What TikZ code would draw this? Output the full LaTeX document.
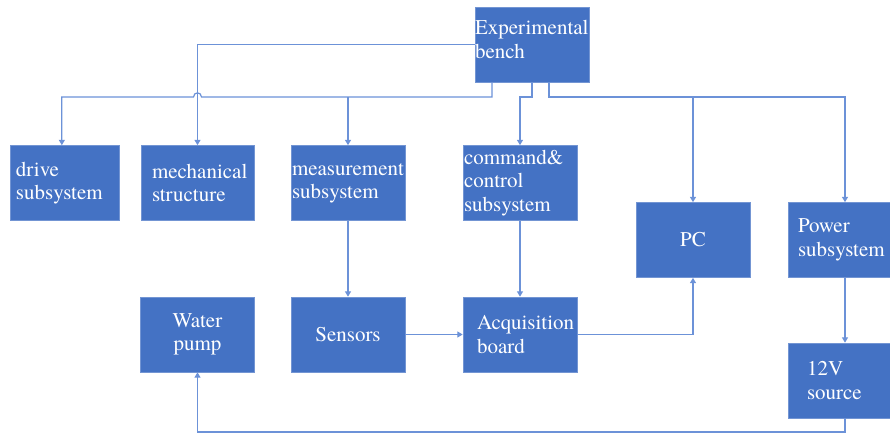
\documentclass[tikz,border=0pt]{standalone}
\usepackage{fontspec}
\setmainfont{texgyretermes-regular.otf}
\newfontfamily\boxfont{texgyretermes-regular.otf}
\usetikzlibrary{arrows.meta}
\definecolor{boxblue}{RGB}{68,114,196}
\definecolor{linkblue}{RGB}{108,146,216}

\tikzset{
  blk/.style={fill=boxblue, draw=boxblue!75!white, line width=0.5pt, text=white,
    font=\boxfont\fontsize{15.75}{17.6}\selectfont, minimum height=56.25pt, inner ysep=0pt, align=left},
  conn/.style={draw=linkblue, line width=0.9pt, -{Triangle[length=4pt,width=4.5pt]}},
}

\begin{document}
\begin{tikzpicture}[x=0.75pt,y=0.75pt,yscale=-1,xscale=1]
\useasboundingbox (0,0) rectangle (890,433);
%Shape: Rectangle [bench]
\node[blk, text width=85.5pt, inner xsep=0pt] (bench) at (532,44.5) {Experimental\\bench\\[-10pt]\rule{0pt}{0pt}};
%Shape: Rectangle [subsystems]
\node[blk, text width=72.75pt, inner xsep=4.5pt] (drive) at (64.5,183) {drive\\subsystem};
\node[blk, text width=68.25pt, inner xsep=8.25pt] (mech) at (197.5,183) {mechanical\\structure};
\node[blk, text width=84pt, inner xsep=0.75pt] (meas) at (348,183) {measurement\\subsystem};
\node[blk, text width=84pt, inner xsep=0.75pt] (cmd) at (520,183) {command\&\\control\\subsystem};
\node[blk, text width=84pt, inner xsep=0.75pt, align=center] (pc) at (693,240) {PC};
\node[blk, text width=70.5pt, inner xsep=7.5pt] (power) at (845,240) {Power\\subsystem};
%Shape: Rectangle [devices]
\node[blk, text width=84pt, inner xsep=0.75pt, align=center] (pump) at (197.5,334.5) {Water\\pump};
\node[blk, text width=84pt, inner xsep=0.75pt, align=center] (sens) at (348,334.5) {Sensors};
\node[blk, text width=64.5pt, inner xsep=10.5pt] (acq) at (520,334.5) {Acquisition\\board};
\node[blk, text width=57pt, inner xsep=14.25pt] (src) at (845,380.5) {12V\\source};
%Bus points under the bench
\coordinate (busL) at (492,97);
\coordinate (busM) at (532,97);
\coordinate (busR) at (549,97);
\coordinate (back) at (845,432);
%Connectors
\draw[conn] (bench.west) -| (mech.north);
\draw[conn] (busL |- bench.south) -- (busL) -- (201.5,97) .. controls (201.5,91.5) and (193.5,91.5) .. (193.5,97) -| ([xshift=-2pt]drive.north);
\draw[conn] (busL -| meas.north) -- (meas.north);
\draw[conn] (busM |- bench.south) -- (busM) -| (cmd.north);
\draw[conn] (busR |- bench.south) -- (busR) -| (pc.north);
\draw[conn] (busR) -| (power.north);
\draw[conn] (meas.south) -- (sens.north);
\draw[conn] (cmd.south) -- (acq.north);
\draw[conn] (power.south) -- (src.north);
\draw[conn] (sens.east) -- (acq.west);
\draw[conn] (acq.east) -| (pc.south);
\draw[conn] (src.south) -- (back) -| (pump.south);
\end{tikzpicture}
\end{document}
